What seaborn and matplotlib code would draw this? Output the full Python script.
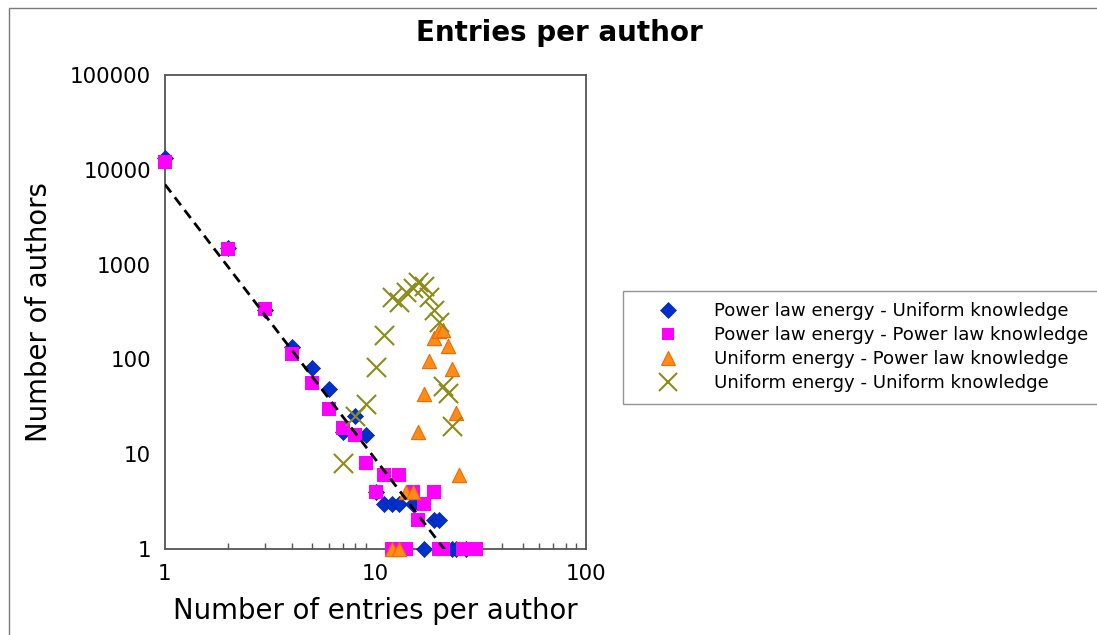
import numpy as np
import pandas as pd
import matplotlib
matplotlib.use("Agg")
import matplotlib.pyplot as plt
import matplotlib.ticker as mticker
from matplotlib.patches import Rectangle
import seaborn as sns

# Power law energy - Uniform knowledge
plu_x = [1, 2, 3, 4, 5, 6, 7, 8, 9, 10, 11, 12, 13, 15, 17, 19, 20, 23, 24, 27]
plu_y = [13300, 1500, 330, 135, 81, 49, 17, 25, 16, 4, 3, 3, 3, 3, 1, 2, 2, 1, 1, 1]

# Power law energy - Power law knowledge
plp_x = [1, 2, 3, 4, 5, 6, 7, 8, 9, 10, 11, 12, 13, 14, 15, 16, 17, 19, 20, 21, 26, 28, 30]
plp_y = [12200, 1450, 337, 113, 57, 30, 19, 16, 8, 4, 6, 1, 6, 1, 4, 2, 3, 4, 1, 1, 1, 1, 1]

# Uniform energy - Power law knowledge
upl_x = [12, 13, 14, 15, 16, 17, 18, 19, 20, 21, 22, 23, 24, 25]
upl_y = [1, 1, 4, 4, 17, 43, 97, 167, 200, 205, 138, 80, 27, 6]

# Uniform energy - Uniform knowledge
uu_x = [7, 8, 9, 10, 11, 12, 13, 14, 15, 16, 17, 18, 19, 20, 21, 22, 23]
uu_y = [8, 25, 34, 84, 181, 450, 400, 520, 570, 660, 590, 460, 330, 250, 52, 44, 20]

series_labels = [
    "Power law energy - Uniform knowledge",
    "Power law energy - Power law knowledge",
    "Uniform energy - Power law knowledge",
    "Uniform energy - Uniform knowledge",
]

# power-law trend  y = a * x^b
trend_a = 7000.0
trend_b = -2.9

x_ticks = [1, 10, 100]
y_ticks = [1, 10, 100, 1000, 10000, 100000]

sns.set_style("white")
plt.rcParams["font.family"] = ["DejaVu Sans"]
plt.rcParams["text.color"] = "black"
plt.rcParams["axes.labelcolor"] = "black"

W, H = 1097, 635
fig = plt.figure(figsize=(W / 100, H / 100), dpi=100)
ax = fig.add_axes([165 / W, 1 - 549 / H, (586 - 165) / W, (549 - 75) / H])

# outer frame of the page
fig.patches.append(Rectangle((9 / W, -0.1), 1.2, 1.1 - 8 / H, transform=fig.transFigure,
                             fill=False, edgecolor="#7a7a7a", linewidth=1.0))

BLUE, BLUE_EDGE = "#0030cc", "#001a90"
MAGENTA = "#ff00ff"
ORANGE, ORANGE_EDGE = "#ff8c1a", "#f06a00"
OLIVE = "#8c8c1a"

common = dict(ax=ax, clip_on=False, legend=False)
sns.scatterplot(x=plu_x, y=plu_y, marker="D", s=68, color=BLUE,
                edgecolor=BLUE_EDGE, linewidth=0.4, zorder=3, **common)
sns.scatterplot(x=plp_x, y=plp_y, marker="s", s=100, color=MAGENTA,
                edgecolor=MAGENTA, linewidth=0, zorder=4, **common)
sns.scatterplot(x=upl_x, y=upl_y, marker="^", s=105, color=ORANGE,
                edgecolor=ORANGE_EDGE, linewidth=0.8, zorder=5, **common)
sns.scatterplot(x=uu_x, y=uu_y, marker="x", s=190, color=OLIVE,
                linewidth=1.5, zorder=6, **common)

trend_x = np.geomspace(1, 23, 200)
trend = pd.DataFrame({"x": trend_x, "y": trend_a * trend_x ** trend_b})
sns.lineplot(data=trend, x="x", y="y", ax=ax, color="black", linewidth=2.0,
             linestyle=(0, (3.6, 2.2)), zorder=7)

ax.set_xscale("log")
ax.set_yscale("log")
ax.set_xlim(1, 100)
ax.set_ylim(1, 100000)
ax.set_xticks(x_ticks)
ax.set_yticks(y_ticks)
fmt = mticker.FuncFormatter(lambda v, p: f"{v:g}" if v < 1e5 else f"{int(v)}")
ax.xaxis.set_major_formatter(fmt)
ax.yaxis.set_major_formatter(fmt)
ax.yaxis.set_minor_locator(mticker.NullLocator())
ax.xaxis.set_minor_formatter(mticker.NullFormatter())

for sp in ax.spines.values():
    sp.set_color("#555555")
    sp.set_linewidth(1.3)
ax.tick_params(axis="both", which="major", direction="out", length=6, width=1,
               color="#555555", labelsize=15.4, pad=4, labelcolor="black")
ax.tick_params(axis="x", which="minor", direction="in", length=4, width=1,
               color="#555555", bottom=True)
ax.tick_params(axis="x", which="major", length=7)

ax.set_xlabel("Number of entries per author", fontsize=19.8, labelpad=9)
ax.set_ylabel("Number of authors", fontsize=19.8, labelpad=12)

fig.text(559 / W, 1 - 33 / H, "Entries per author", ha="center", va="center",
         fontsize=20, fontweight="bold")

handles = [
    plt.Line2D([], [], linestyle="none", marker="D", markersize=8, color=BLUE,
               markeredgecolor=BLUE_EDGE, markeredgewidth=0.4),
    plt.Line2D([], [], linestyle="none", marker="s", markersize=9, color=MAGENTA,
               markeredgewidth=0),
    plt.Line2D([], [], linestyle="none", marker="^", markersize=9.5, color=ORANGE,
               markeredgecolor=ORANGE_EDGE, markeredgewidth=0.8),
    plt.Line2D([], [], linestyle="none", marker="x", markersize=13, color=OLIVE,
               markeredgewidth=1.5),
]
leg = ax.legend(handles, series_labels, loc="upper left",
                bbox_to_anchor=(623 / W, 1 - 291 / H), bbox_transform=fig.transFigure,
                borderaxespad=0, frameon=True, fancybox=False, fontsize=13.1,
                handlelength=3.7, handletextpad=0.68, borderpad=0.62,
                labelspacing=0.33)
leg.get_frame().set_edgecolor("#7a7a7a")
leg.get_frame().set_linewidth(1.0)

fig.savefig("out.png", dpi=100)
